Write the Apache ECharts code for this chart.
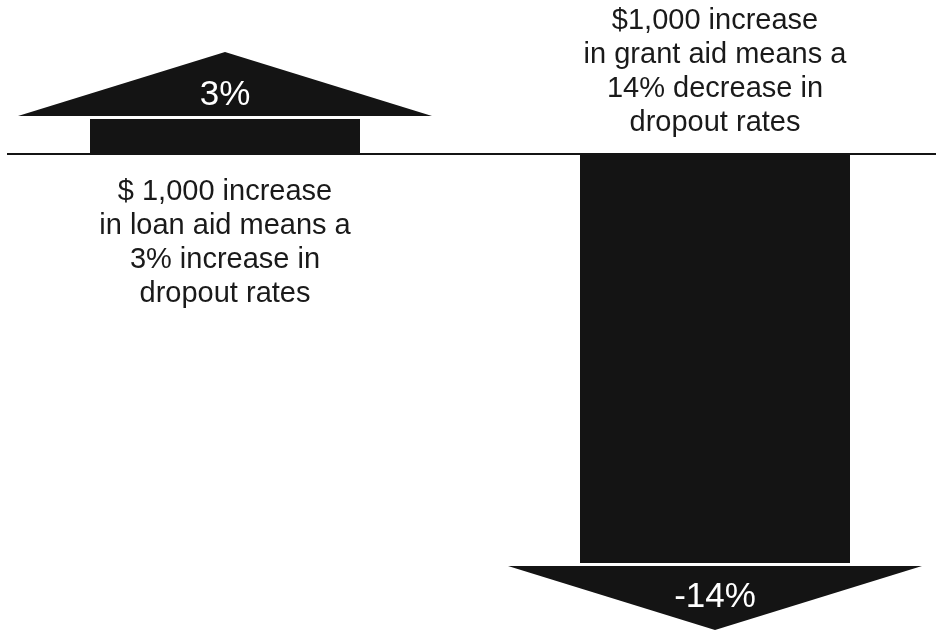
<!DOCTYPE html>
<html>
<head>
<meta charset="utf-8" />
<title>Aid and dropout rates</title>
<script src="https://cdn.jsdelivr.net/npm/echarts@6/dist/echarts.min.js"></script>
<style>
  html, body { margin: 0; padding: 0; background: #fff; }
</style>
</head>
<body>
<div id="main" style="width: 936px;height:635px;"></div>
<script type="text/javascript">
// data
var categories = ['Loan aid', 'Grant aid'];
var effects = [3, -14];
var valueLabels = ['3%', '-14%'];
var notes = [
  '$ 1,000 increase\nin loan aid means a\n3% increase in\ndropout rates',
  '$1,000 increase\nin grant aid means a\n14% decrease in\ndropout rates'
];

var myChart = echarts.init(document.getElementById('main'));
var ink = '#141414';
var font = '"Liberation Sans", Arial, Helvetica, sans-serif';

function renderArrow(params, api) {
  var idx = api.value(0);
  var v = api.value(1);
  var base = api.coord([idx, 0]);
  var tipPt = api.coord([idx, v]);
  var x = base[0];
  var y0 = base[1];
  var tip = tipPt[1];
  var dir = tip < y0 ? -1 : 1;   // -1 = up, 1 = down
  var head = 64, gap = 3, bodyHalf = 135, headHalf = 207;
  var headBase = tip - dir * head;
  var bodyEnd = headBase - dir * gap;
  var children = [];

  if (params.dataIndex === 0) {
    children.push({
      type: 'line',
      shape: { x1: 7, y1: y0, x2: api.getWidth(), y2: y0 },
      style: { stroke: ink, lineWidth: 2 }
    });
  }
  children.push({
    type: 'rect',
    shape: { x: x - bodyHalf, y: Math.min(y0, bodyEnd), width: bodyHalf * 2, height: Math.abs(y0 - bodyEnd) },
    style: { fill: ink }
  });
  children.push({
    type: 'polygon',
    shape: { points: [[x - headHalf, headBase], [x + headHalf, headBase], [x, tip]] },
    style: { fill: ink }
  });
  children.push({
    type: 'text',
    x: x,
    y: dir < 0 ? headBase - 21 : headBase + 31,
    style: {
      text: valueLabels[params.dataIndex],
      fill: '#fff', fontSize: 35, fontFamily: font,
      align: 'center', verticalAlign: 'middle'
    }
  });
  children.push({
    type: 'text',
    x: x,
    y: dir < 0 ? y0 + 21 : y0 - 14,
    style: {
      text: notes[params.dataIndex],
      fill: '#1a1a1a', fontSize: 29, fontFamily: font, lineHeight: 34,
      align: 'center', verticalAlign: dir < 0 ? 'top' : 'bottom'
    }
  });
  return { type: 'group', children: children };
}

var option = {
  animation: false,
  grid: { left: 225, right: 221, top: 52, bottom: 5 },
  xAxis: {
    type: 'category',
    data: categories,
    boundaryGap: false,
    show: false
  },
  yAxis: {
    type: 'value',
    min: -14,
    max: 3,
    show: false
  },
  series: [{
    type: 'custom',
    clip: false,
    renderItem: renderArrow,
    data: effects.map(function (v, i) { return [i, v]; })
  }]
};

myChart.setOption(option);
</script>
</body>
</html>
